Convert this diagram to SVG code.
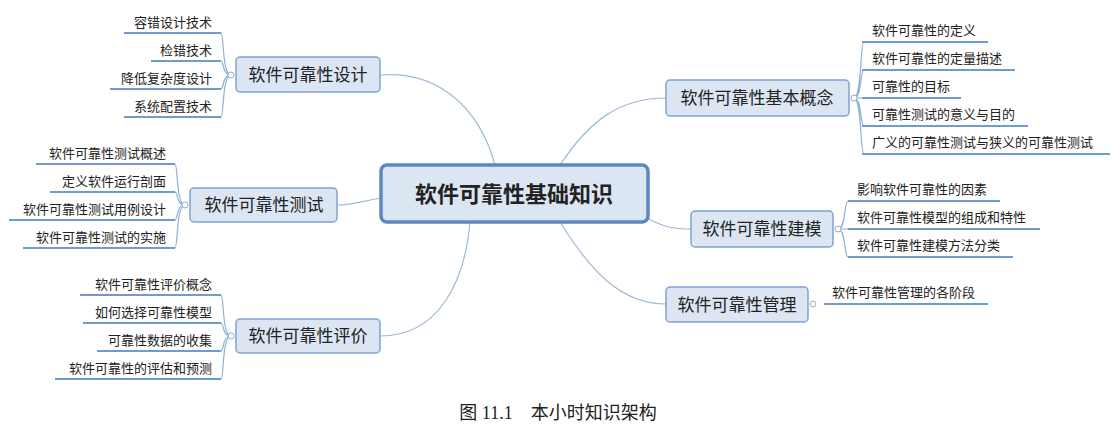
<svg xmlns="http://www.w3.org/2000/svg" width="1116" height="430" viewBox="0 0 1116 430">
<style>
.n{fill:#dce6f2;stroke:#7ea3d2;stroke-width:1.5}
.c{fill:#dce6f2;stroke:#5b87c2;stroke-width:3.5}
.t{font-family:"Noto Sans CJK SC",sans-serif;fill:#222}
.nt{font-size:17px}
.lt{font-size:13px}
.ul{stroke:#6f9bd1;stroke-width:2;fill:none}
.br{stroke:#8fb0d8;stroke-width:1.2;fill:none}
.cn{stroke:#9fbad9;stroke-width:1.2;fill:none}
.dot{fill:#fff;stroke:#8fb0d8;stroke-width:1}
</style>
<g id="connectors">
<path class="cn" d="M380,75 C440,70 480,110 495,165"/>
<path class="cn" d="M337,205 C355,205 365,200 382,198"/>
<path class="cn" d="M380,336 C440,336 465,280 470,222"/>
<path class="cn" d="M560,165 C590,120 620,98 666,98"/>
<path class="cn" d="M647,218 C665,228 675,229 691,229"/>
<path class="cn" d="M560,222 C590,270 620,304 666,304"/>
</g>
<g id="center"><rect class="c" x="381" y="165" width="267" height="57" rx="6"/><text class="t" x="514" y="202" text-anchor="middle" font-size="22" font-weight="bold">软件可靠性基础知识</text></g>
<g id="design">
<rect class="n" x="236" y="57" width="144" height="35" rx="4"/><text class="t nt" x="308" y="81" text-anchor="middle">软件可靠性设计</text>
<path class="br" d="M231,75 C222,75 224,33 221,33 M231,75 C222,75 224,61 221,61 M231,75 C222,75 224,89 221,89 M231,75 C222,75 224,117 221,117"/>
<circle class="dot" cx="231" cy="75" r="3"/>
<path class="ul" d="M124,33H221M151,61H221M110,89H221M124,117H221"/>
<g class="t lt" text-anchor="end"><text x="212" y="27">容错设计技术</text><text x="212" y="55">检错技术</text><text x="212" y="83">降低复杂度设计</text><text x="212" y="111">系统配置技术</text></g>
</g>
<g id="test">
<rect class="n" x="190" y="188" width="147" height="34" rx="4"/><text class="t nt" x="264" y="211" text-anchor="middle">软件可靠性测试</text>
<path class="br" d="M185,205 C176,205 178,164 175,164 M185,205 C176,205 178,192 175,192 M185,205 C176,205 178,220 175,220 M185,205 C176,205 178,248 175,248"/>
<circle class="dot" cx="185" cy="205" r="3"/>
<path class="ul" d="M36,164H175M50,192H175M9,220H175M23,248H175"/>
<g class="t lt" text-anchor="end"><text x="166" y="158">软件可靠性测试概述</text><text x="166" y="186">定义软件运行剖面</text><text x="166" y="214">软件可靠性测试用例设计</text><text x="166" y="242">软件可靠性测试的实施</text></g>
</g>
<g id="eval">
<rect class="n" x="236" y="319" width="144" height="34" rx="4"/><text class="t nt" x="308" y="342" text-anchor="middle">软件可靠性评价</text>
<path class="br" d="M231,336 C222,336 224,295 221,295 M231,336 C222,336 224,323 221,323 M231,336 C222,336 224,351 221,351 M231,336 C222,336 224,379 221,379"/>
<circle class="dot" cx="231" cy="336" r="3"/>
<path class="ul" d="M80,295H221M83,323H221M97,351H221M55,379H221"/>
<g class="t lt" text-anchor="end"><text x="212" y="289">软件可靠性评价概念</text><text x="212" y="317">如何选择可靠性模型</text><text x="212" y="345">可靠性数据的收集</text><text x="212" y="373">软件可靠性的评估和预测</text></g>
</g>
<g id="concept">
<rect class="n" x="666" y="80" width="183" height="36" rx="4"/><text class="t nt" x="757" y="104" text-anchor="middle">软件可靠性基本概念</text>
<path class="br" d="M854,98 C862,98 860,42 864,42 M854,98 C862,98 860,70 864,70 M854,98 H864 M854,98 C862,98 860,126 864,126 M854,98 C862,98 860,154 864,154"/>
<circle class="dot" cx="854" cy="98" r="3"/>
<path class="ul" d="M862,42H988M862,70H1015M862,98H961M862,126H1028M862,154H1110"/>
<g class="t lt"><text x="872" y="35">软件可靠性的定义</text><text x="872" y="63">软件可靠性的定量描述</text><text x="872" y="91">可靠性的目标</text><text x="872" y="119">可靠性测试的意义与目的</text><text x="872" y="147">广义的可靠性测试与狭义的可靠性测试</text></g>
</g>
<g id="model">
<rect class="n" x="691" y="211" width="142" height="36" rx="4"/><text class="t nt" x="762" y="235" text-anchor="middle">软件可靠性建模</text>
<path class="br" d="M838,229 C846,229 844,201 848,201 M838,229 H848 M838,229 C846,229 844,257 848,257"/>
<circle class="dot" cx="838" cy="229" r="3"/>
<path class="ul" d="M848,201H1000M848,229H1040M848,257H1013"/>
<g class="t lt"><text x="857" y="194">影响软件可靠性的因素</text><text x="857" y="222">软件可靠性模型的组成和特性</text><text x="857" y="250">软件可靠性建模方法分类</text></g>
</g>
<g id="manage">
<rect class="n" x="666" y="287" width="142" height="35" rx="4"/><text class="t nt" x="737" y="311" text-anchor="middle">软件可靠性管理</text>
<circle class="dot" cx="813" cy="304" r="3"/>
<path class="ul" d="M824,304H988"/>
<text class="t lt" x="832" y="297">软件可靠性管理的各阶段</text>
</g>
<text x="558" y="419" text-anchor="middle" font-family="Liberation Serif,'Noto Sans CJK SC',serif" font-size="18" fill="#222">图 11.1　本小时知识架构</text>
</svg>
